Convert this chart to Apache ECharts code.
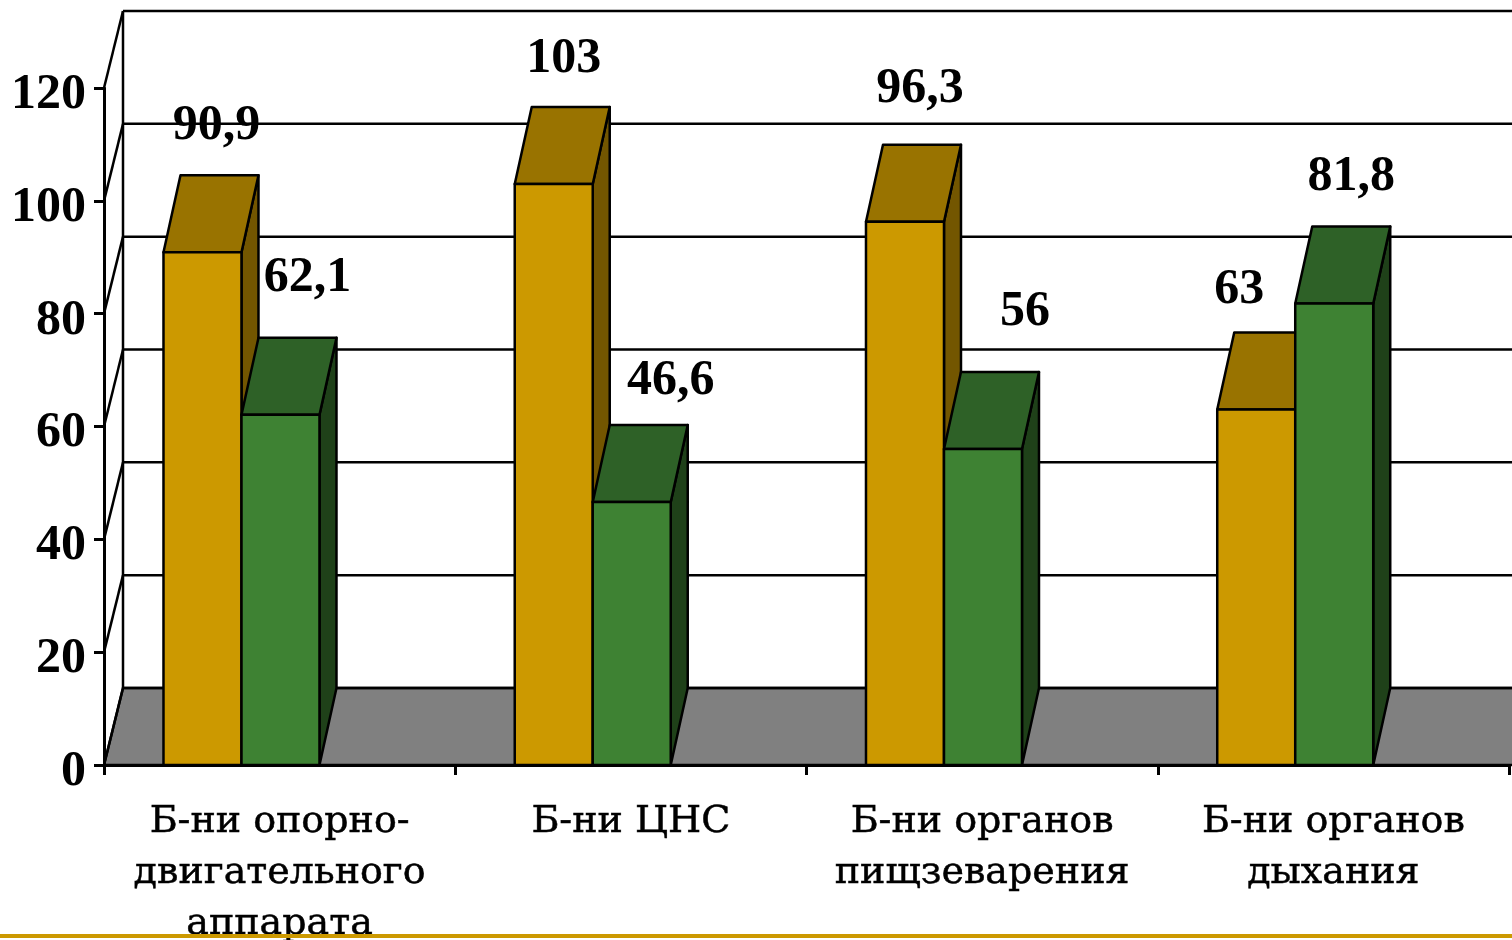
<!DOCTYPE html>
<html><head><meta charset="utf-8">
<style>html,body{margin:0;padding:0;background:#fff;overflow:hidden}#c{width:1512px;height:940px}</style>
<script src="https://cdn.jsdelivr.net/npm/echarts@6/dist/echarts.min.js"></script>
</head><body><div id="c"></div>
<script>
const categories = ['Б-ни опорно-\nдвигательного\nаппарата','Б-ни ЦНС','Б-ни органов\nпищзеварения','Б-ни органов\nдыхания'];
const yellowValues = [90.9,103,96.3,63];
const greenValues = [62.1,46.6,56,81.8];
const yTicks = [0,20,40,60,80,100,120];
// label placement (pixel offsets of hand-placed labels from the front-top-centre of each bar)
const yellowLabelOffsets = [[14,-126],[10,-125],[15,-133],[-17,-119]];
const greenLabelOffsets = [[27,-137],[39,-121],[42,-137],[17,-126]];

const WALL_DX = 19, DX = 17, DY = -77, BAR = 78, LW = 2.5;
const chart = echarts.init(document.getElementById('c'));
const dark = '#000';
const valueFont = 'bold 50px "Liberation Serif"';

function frameItem(params, api){
  const cs = params.coordSys;
  const left = cs.x, right = cs.x + cs.width + 40, base = api.coord([0,0])[1];
  const kids = [];
  kids.push({type:'polygon',shape:{points:[[left,base],[left+WALL_DX,base+DY],[right+WALL_DX,base+DY],[right,base]]},
    style:{fill:'#808080',stroke:dark,lineWidth:LW}});
  kids.push({type:'line',shape:{x1:left+WALL_DX,y1:api.coord([0,yTicks[yTicks.length-1]])[1]+DY,x2:left+WALL_DX,y2:base+DY},style:{stroke:dark,lineWidth:LW}});
  yTicks.forEach(t=>{
    const y = api.coord([0,t])[1];
    kids.push({type:'line',shape:{x1:left,y1:y,x2:left+WALL_DX,y2:y+DY},style:{stroke:dark,lineWidth:LW}});
    kids.push({type:'line',shape:{x1:left+WALL_DX,y1:y+DY,x2:right+WALL_DX,y2:y+DY},style:{stroke:dark,lineWidth:LW}});
  });
  return {type:'group',children:kids};
}

function barItem(sideSign, colors, offsets){
  return function(params, api){
    const i = api.value(0), v = api.value(1);
    const top = api.coord([i,v]), bottom = api.coord([i,0]);
    const mid = top[0] - api.size([1,0])[0]*0.11 + 0.5;
    const x0 = sideSign<0 ? mid-BAR : mid, x1 = x0+BAR;
    const yt = top[1], yb = bottom[1];
    const st = {stroke:dark,lineWidth:LW,lineJoin:'round'};
    const off = offsets[params.dataIndex];
    return {type:'group',children:[
      {type:'polygon',shape:{points:[[x1,yb],[x1+DX,yb+DY],[x1+DX,yt+DY],[x1,yt]]},style:Object.assign({fill:colors[2]},st)},
      {type:'polygon',shape:{points:[[x0,yt],[x0+DX,yt+DY],[x1+DX,yt+DY],[x1,yt]]},style:Object.assign({fill:colors[1]},st)},
      {type:'rect',shape:{x:x0,y:yt,width:BAR,height:yb-yt},style:Object.assign({fill:colors[0]},st)},
      {type:'text',z2:20,style:{text:String(v).replace('.',','),x:(x0+x1)/2+off[0],y:yt+off[1],fill:'#000',font:valueFont,align:'center',verticalAlign:'middle'}}
    ]};
  };
}

chart.setOption({
  animation:false,
  backgroundColor:'#fff',
  grid:{left:104,right:3,top:88,bottom:175,containLabel:false,outerBoundsMode:'none'},
  xAxis:{type:'category',data:categories,z:5,
    axisLine:{show:true,lineStyle:{color:'#000',width:3}},
    axisTick:{show:true,length:10,lineStyle:{color:'#000',width:3}},
    axisLabel:{interval:0,margin:32,color:'#000',fontFamily:'DejaVu Serif',fontSize:38,lineHeight:51,verticalAlign:'top',textBorderColor:'#000',textBorderWidth:0.5},
    splitLine:{show:false}},
  yAxis:{type:'value',min:0,max:120,interval:20,z:5,
    axisLine:{show:true,lineStyle:{color:'#000',width:3}},
    axisTick:{show:true,length:10,lineStyle:{color:'#000',width:3}},
    axisLabel:{margin:18,color:'#000',fontFamily:'Liberation Serif',fontWeight:'bold',fontSize:50,lineHeight:14,verticalAlign:'top',showMinLabel:true,showMaxLabel:true},
    splitLine:{show:false}},
  graphic:[{type:'rect',z:100,shape:{x:0,y:934,width:1512,height:4},style:{fill:'#CC9900'}}],
  series:[
    {type:'custom',z:1,silent:true,data:[[0,0]],renderItem:frameItem},
    {type:'custom',z:2,silent:true,data:yellowValues.map((v,i)=>[i,v]),encode:{x:0,y:1},
      renderItem:barItem(-1,['#CC9900','#997300','#735600'],yellowLabelOffsets)},
    {type:'custom',z:3,silent:true,data:greenValues.map((v,i)=>[i,v]),encode:{x:0,y:1},
      renderItem:barItem(1,['#3E8233','#2E6127','#1F4119'],greenLabelOffsets)}
  ]
});
</script></body></html>
